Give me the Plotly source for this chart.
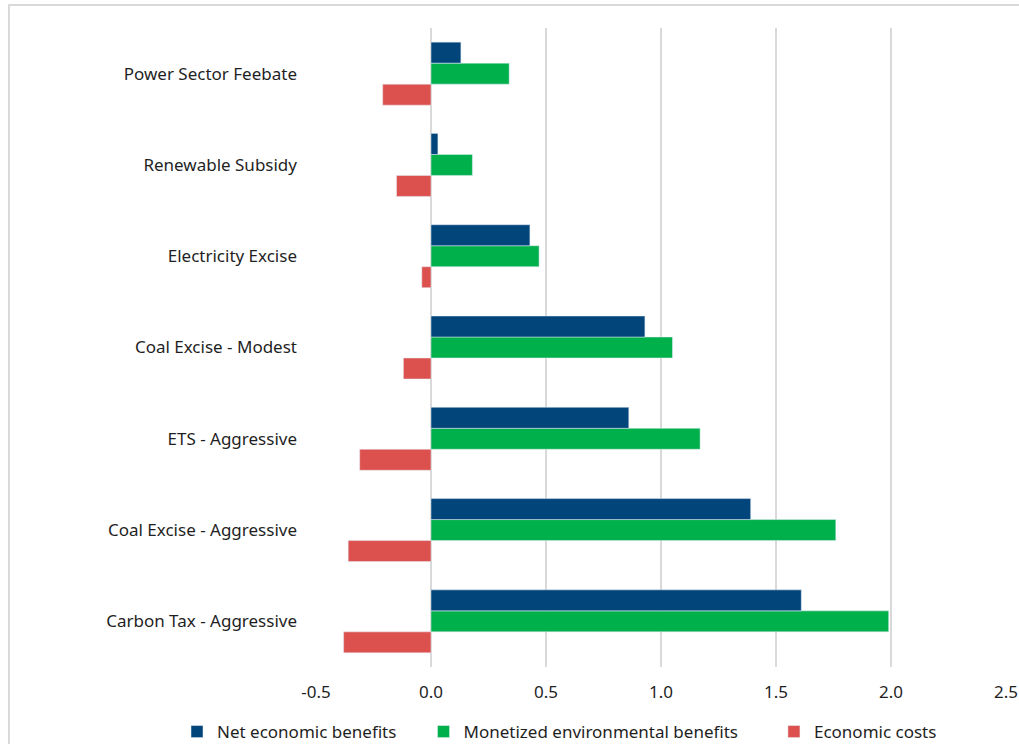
import plotly.graph_objects as go

# Policy scenarios (bottom to top on the chart)
policies = [
    "Carbon Tax - Aggressive",
    "Coal Excise - Aggressive",
    "ETS - Aggressive",
    "Coal Excise - Modest",
    "Electricity Excise",
    "Renewable Subsidy",
    "Power Sector Feebate",
]

net_economic_benefits = [1.61, 1.39, 0.86, 0.93, 0.43, 0.03, 0.13]
monetized_env_benefits = [1.99, 1.76, 1.17, 1.05, 0.47, 0.18, 0.34]
economic_costs = [-0.38, -0.36, -0.31, -0.12, -0.04, -0.15, -0.21]

x_ticks = [-0.5, 0.0, 0.5, 1.0, 1.5, 2.0, 2.5]
x_tick_text = ["-0.5", "0.0", "0.5", "1.0", "1.5", "2.0", "2.5"]

BLUE = "#02457B"
GREEN = "#00B04B"
RED = "#DC514D"
TEXT = "#1F1F1F"
GRID = "#D9D9D9"

PLOT_L, PLOT_R, PLOT_T, PLOT_B = 316, 1006, 28, 667
W, H = 1019, 744
PW, PH = PLOT_R - PLOT_L, PLOT_B - PLOT_T

NBSP = "\u00a0"

fig = go.Figure()
# Added bottom-to-top within each group; legend is reversed to read left-to-right.
# Trailing non-breaking spaces widen the gap between legend entries.
fig.add_trace(go.Bar(y=policies, x=economic_costs, orientation="h",
                     name="Economic costs", marker_color=RED))
fig.add_trace(go.Bar(y=policies, x=monetized_env_benefits, orientation="h",
                     name="Monetized environmental benefits" + NBSP * 7,
                     marker_color=GREEN))
fig.add_trace(go.Bar(y=policies, x=net_economic_benefits, orientation="h",
                     name="Net economic benefits" + NBSP * 5, marker_color=BLUE))

fig.update_layout(
    width=W,
    height=H,
    margin=dict(l=PLOT_L, r=W - PLOT_R, t=PLOT_T, b=H - PLOT_B, autoexpand=False),
    paper_bgcolor="white",
    plot_bgcolor="white",
    barmode="group",
    bargap=0.31,
    bargroupgap=0,
    font=dict(family="Noto Sans, Open Sans, sans-serif", size=17, color=TEXT),
    showlegend=True,
    legend=dict(
        orientation="h",
        traceorder="reversed",
        x=(177 - PLOT_L) / PW,
        xanchor="left",
        y=(PLOT_B - 732) / PH,
        yanchor="middle",
        font=dict(size=17, color=TEXT),
        itemwidth=30,
        bgcolor="rgba(0,0,0,0)",
    ),
    xaxis=dict(
        range=[-0.5, 2.5],
        tickvals=x_ticks,
        ticktext=x_tick_text,
        showgrid=True,
        gridcolor=GRID,
        gridwidth=1.5,
        zeroline=True,
        zerolinecolor=GRID,
        zerolinewidth=1.5,
        showline=False,
        ticks="",
        ticklabelstandoff=13,
        tickfont=dict(size=17, color=TEXT),
    ),
    yaxis=dict(
        type="category",
        categoryorder="array",
        categoryarray=policies,
        showgrid=False,
        zeroline=False,
        showline=False,
        ticks="",
        ticklabelstandoff=18,
        tickfont=dict(size=17, color=TEXT),
    ),
    shapes=[
        # light frame around the chart (top and left edges visible)
        dict(
            type="rect",
            xref="paper", yref="paper",
            x0=(9 - PLOT_L) / PW, x1=(1100 - PLOT_L) / PW,
            y0=(PLOT_B - 800) / PH, y1=(PLOT_B - 5) / PH,
            line=dict(color=GRID, width=2),
            fillcolor="rgba(0,0,0,0)",
            layer="below",
        )
    ],
)

fig.write_html("out.html")
